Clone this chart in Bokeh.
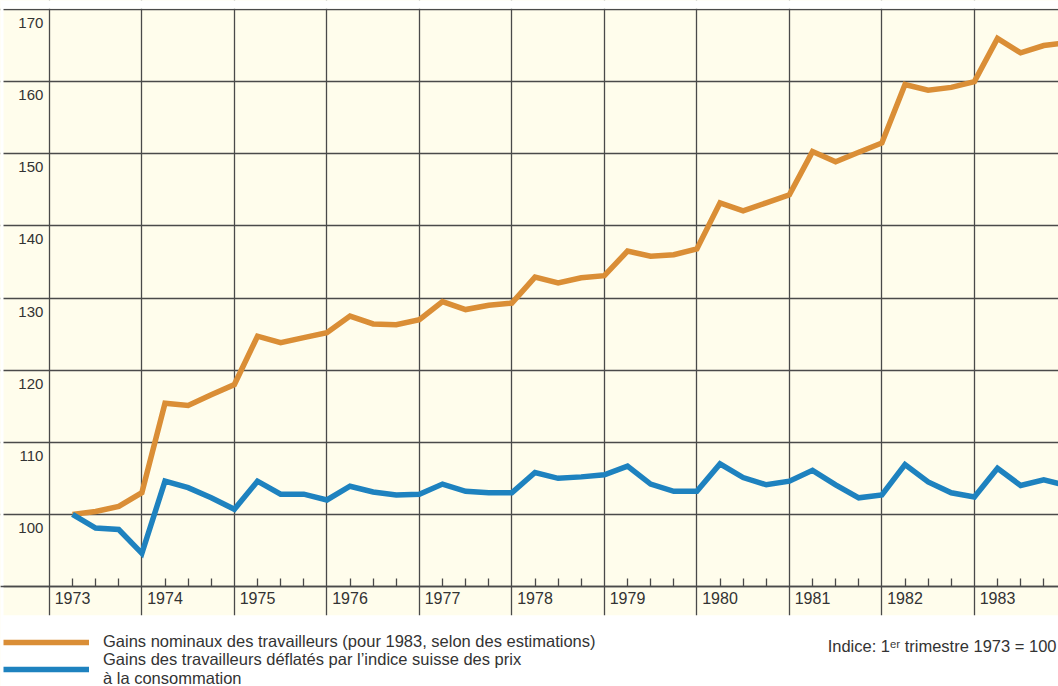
from bokeh.plotting import figure
from bokeh.models import FixedTicker, Legend, LegendItem, Label
from bokeh.core.properties import value
from bokeh.embed import file_html
from bokeh.resources import INLINE

# ---------------- data ----------------
years = [1973, 1974, 1975, 1976, 1977, 1978, 1979, 1980, 1981, 1982, 1983]
quarters = [1, 2, 3, 4]

# Gains nominaux des travailleurs (index, 1er trimestre 1973 = 100)
nominal = [
    100.0, 100.4, 101.1, 103.0,
    115.4, 115.1, 116.6, 118.0,
    124.7, 123.8, 124.5, 125.2,
    127.5, 126.4, 126.3, 127.0,
    129.5, 128.4, 129.0, 129.3,
    132.9, 132.1, 132.8, 133.1,
    136.5, 135.8, 136.0, 136.8,
    143.2, 142.1, 143.2, 144.3,
    150.3, 148.9, 150.2, 151.5,
    159.6, 158.8, 159.2, 160.0,
    166.0, 164.0, 165.0, 165.4,
]

# Gains deflated by the Swiss consumer price index
real = [
    100.0, 98.1, 97.9, 94.6,
    104.6, 103.7, 102.3, 100.7,
    104.6, 102.8, 102.8, 102.0,
    103.9, 103.1, 102.7, 102.8,
    104.2, 103.2, 103.0, 103.0,
    105.8, 105.0, 105.2, 105.5,
    106.7, 104.2, 103.2, 103.2,
    107.0, 105.1, 104.1, 104.6,
    106.1, 104.1, 102.3, 102.7,
    106.9, 104.5, 103.0, 102.4,
    106.4, 104.0, 104.8, 104.0,
]

y_ticks = [100, 110, 120, 130, 140, 150, 160, 170]
y_tick_labels = ["100", "110", "120", "130", "140", "150", "160", "170"]
label_nominal = "Gains nominaux des travailleurs (pour 1983, selon des estimations)"
label_real = "Gains des travailleurs déflatés par l\u2019indice suisse des prix\nà la consommation"
note = "Indice: 1\u1d49\u02b3 trimestre 1973 = 100"

# ---------------- style ----------------
CREAM = "#FFFDEC"
GRID = "#4a4a4a"
ORANGE = "#DA8E36"
BLUE = "#1E82BF"
TEXT = "#333333"
FONT = "Liberation Sans"

t = [y + (q - 1) / 4 for y in years for q in quarters]

W, H = 1058, 686
PX_PER_YEAR = 92.5
PX_PER_UNIT = 7.2125


def xpx(px):
    return 1973 + (px - 72) / PX_PER_YEAR


x_start = xpx(0)
x_end = xpx(W)
y_top = 170 + 9 / PX_PER_UNIT
y_bot = y_top - H / PX_PER_UNIT
AXIS_Y = 90
BAND_BOTTOM = 86.0
TOP_EDGE = 170 + 0.7 / PX_PER_UNIT

p = figure(width=W, height=H, x_range=(x_start, x_end), y_range=(y_bot, y_top),
           output_backend="svg", toolbar_location=None, min_border=0,
           background_fill_color=CREAM, border_fill_color="white",
           outline_line_color=None)

# grid
p.xgrid.ticker = FixedTicker(ticks=[y - 0.25 for y in years] + [years[-1] + 0.75])
p.ygrid.ticker = FixedTicker(ticks=[AXIS_Y] + y_ticks)
for g in (p.xgrid, p.ygrid):
    g.grid_line_color = GRID
    g.grid_line_width = 1.3
    g.grid_line_alpha = 1.0

# white margins around the chart band (top strip, left strip, legend area)
p.quad(left=[x_start, x_start, x_start], right=[x_end, xpx(3), x_end],
       bottom=[TOP_EDGE, y_bot, y_bot], top=[y_top, y_top, BAND_BOTTOM],
       fill_color="white", line_color=None)

# x axis at y = 90
xa = p.xaxis[0]
xa.fixed_location = AXIS_Y
xa.ticker = FixedTicker(ticks=years,
                        minor_ticks=[y + (q - 1) / 4 for y in years for q in (2, 3)])
xa.axis_line_color = GRID
xa.axis_line_width = 1.3
xa.major_tick_in = 8
xa.major_tick_out = 0
xa.minor_tick_in = 8
xa.minor_tick_out = 0
xa.major_tick_line_color = GRID
xa.minor_tick_line_color = GRID
xa.major_tick_line_width = 1.3
xa.minor_tick_line_width = 1.3
xa.major_label_standoff = 5
xa.major_label_text_font = FONT
xa.major_label_text_font_size = "16px"
xa.major_label_text_color = TEXT
p.yaxis.visible = False

# y labels, inside the first column, just below their grid line
p.text(x=[years[0] - 0.25] * len(y_ticks), y=y_ticks, text=y_tick_labels,
       x_offset=-6, y_offset=8.5, text_align="right", text_baseline="top",
       text_font=value(FONT), text_font_size="15px", text_color=TEXT)

# data lines
r1 = p.line(t, nominal, line_color=ORANGE, line_width=5.5, line_join="miter")
r2 = p.line(t, real, line_color=BLUE, line_width=5.5, line_join="miter")

legend_style = dict(padding=0, margin=0, spacing=0,
                    glyph_width=86, glyph_height=16, label_standoff=14,
                    label_height=16, label_text_font=FONT, label_text_font_size="16.5px",
                    label_text_color=TEXT, background_fill_alpha=0,
                    border_line_color=None)
legend_a = Legend(items=[LegendItem(label=label_nominal, renderers=[r1])],
                  location=(3, 35), **legend_style)
legend_b = Legend(items=[LegendItem(label=label_real, renderers=[r2])],
                  location=(3, -2), **legend_style)
p.add_layout(legend_a)
p.add_layout(legend_b)

p.add_layout(Label(x=xpx(1056), y=y_top - 645 / PX_PER_UNIT,
                   text=note, text_font=FONT, text_font_size="16.5px",
                   text_color=TEXT, text_baseline="middle", text_align="right"))

open("out.html", "w").write(file_html(p, INLINE))
